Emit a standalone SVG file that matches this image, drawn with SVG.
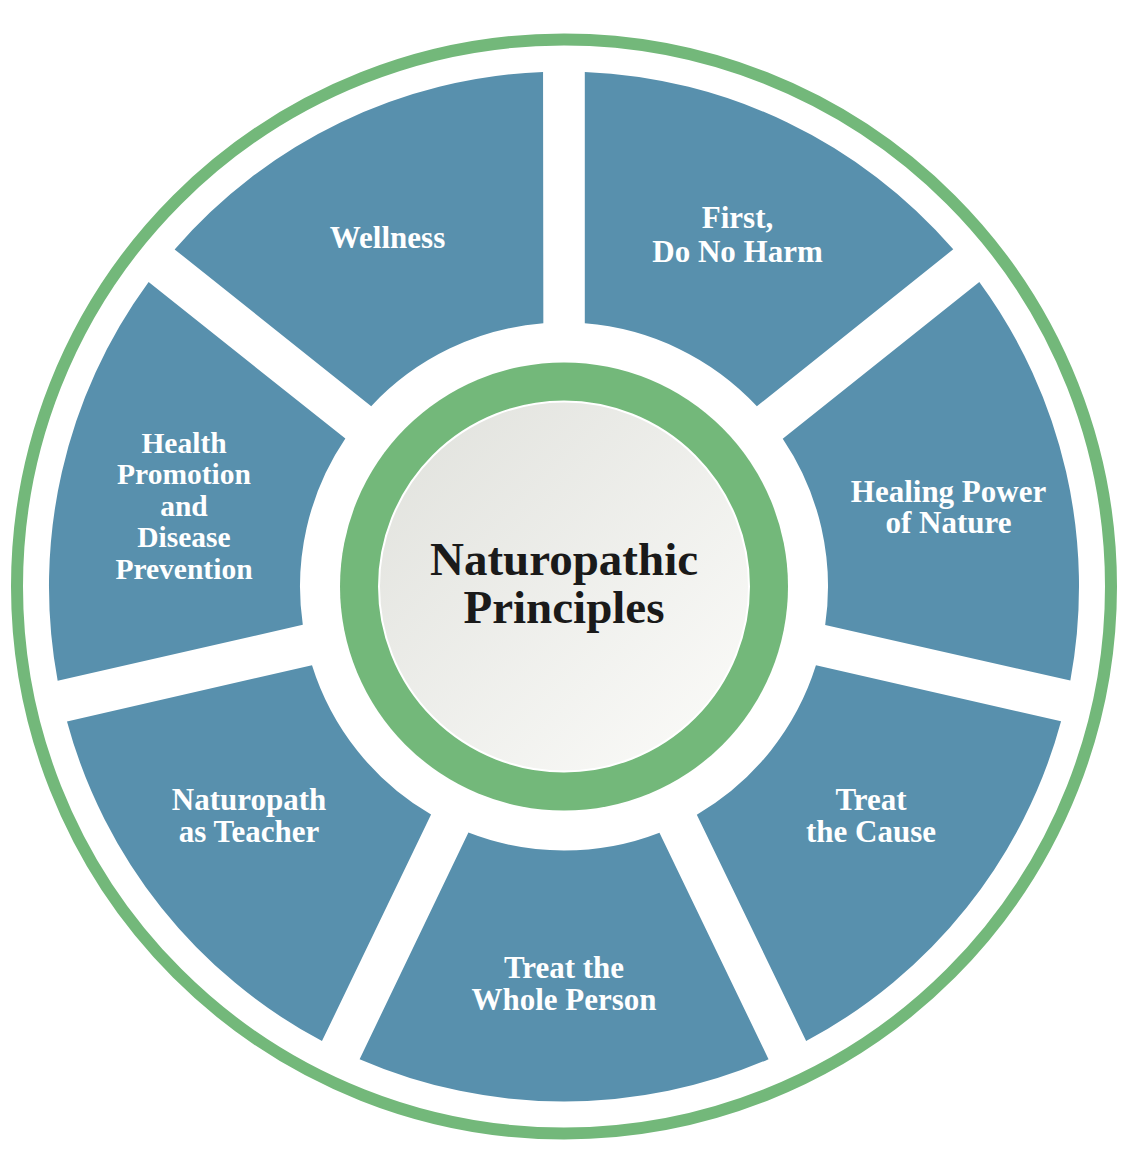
<svg xmlns="http://www.w3.org/2000/svg" width="1130" height="1170" viewBox="0 0 1130 1170">
  <style>
    .seg { fill: #5890AD; }
    .lbl { font-family: "Liberation Serif", "Times New Roman", serif; font-weight: bold; font-size: 31px; fill: #ffffff; text-anchor: middle; }
    .lbl.tight { font-size: 29.5px; }
    .title { font-family: "Liberation Serif", "Times New Roman", serif; font-weight: bold; font-size: 47px; fill: #1a1a1a; text-anchor: middle; }
  </style>
  <defs>
    <linearGradient id="hub" x1="0" y1="0" x2="1" y2="1">
      <stop offset="0" stop-color="#e0e1dc"/>
      <stop offset="1" stop-color="#fcfcfa"/>
    </linearGradient>
  </defs>
  <rect width="1130" height="1170" fill="#ffffff"/>
  <g id="outer-ring">
    <circle cx="564" cy="586.5" r="547" fill="none" stroke="#73B87A" stroke-width="12"/>
  </g>
  <g id="connectors"></g>
  <g id="first-do-no-harm">
    <path class="seg" d="M 584.8 71.9 A 515 515 0 0 1 953.25 249.29 L 756.89 406.25 A 264 264 0 0 0 584.8 323.32 Z"/>
    <text class="lbl" x="737.5" y="228.3">First,</text>
    <text class="lbl" x="737.5" y="261.7">Do No Harm</text>
  </g>
  <g id="healing-power">
    <path class="seg" transform="rotate(51.4286 564 586.5)" d="M 584.8 71.9 A 515 515 0 0 1 953.25 249.29 L 756.89 406.25 A 264 264 0 0 0 584.8 323.32 Z"/>
    <text class="lbl" x="948.5" y="501.7">Healing Power</text>
    <text class="lbl" x="948.5" y="533.3">of Nature</text>
  </g>
  <g id="treat-cause">
    <path class="seg" transform="rotate(102.8571 564 586.5)" d="M 584.8 71.9 A 515 515 0 0 1 953.25 249.29 L 756.89 406.25 A 264 264 0 0 0 584.8 323.32 Z"/>
    <text class="lbl" x="871" y="810">Treat</text>
    <text class="lbl" x="871" y="842">the Cause</text>
  </g>
  <g id="treat-whole-person">
    <path class="seg" transform="rotate(154.2857 564 586.5)" d="M 584.8 71.9 A 515 515 0 0 1 953.25 249.29 L 756.89 406.25 A 264 264 0 0 0 584.8 323.32 Z"/>
    <text class="lbl" x="564" y="978">Treat the</text>
    <text class="lbl" x="564" y="1010">Whole Person</text>
  </g>
  <g id="naturopath-teacher">
    <path class="seg" transform="rotate(205.7143 564 586.5)" d="M 584.8 71.9 A 515 515 0 0 1 953.25 249.29 L 756.89 406.25 A 264 264 0 0 0 584.8 323.32 Z"/>
    <text class="lbl" x="249" y="810">Naturopath</text>
    <text class="lbl" x="249" y="842">as Teacher</text>
  </g>
  <g id="health-promotion">
    <path class="seg" transform="rotate(257.1429 564 586.5)" d="M 584.8 71.9 A 515 515 0 0 1 953.25 249.29 L 756.89 406.25 A 264 264 0 0 0 584.8 323.32 Z"/>
    <text class="lbl tight" x="184" y="452.5">Health</text>
    <text class="lbl tight" x="184" y="484">Promotion</text>
    <text class="lbl tight" x="184" y="515.5">and</text>
    <text class="lbl tight" x="184" y="547">Disease</text>
    <text class="lbl tight" x="184" y="578.5">Prevention</text>
  </g>
  <g id="wellness">
    <path class="seg" transform="rotate(308.5714 564 586.5)" d="M 584.8 71.9 A 515 515 0 0 1 953.25 249.29 L 756.89 406.25 A 264 264 0 0 0 584.8 323.32 Z"/>
    <text class="lbl" x="387.5" y="248">Wellness</text>
  </g>
  <g id="center">
    <circle cx="564" cy="586.5" r="224" fill="#73B87A"/>
    <circle cx="564" cy="586.5" r="185" fill="url(#hub)" stroke="#ffffff" stroke-width="2"/>
    <text class="title" x="564" y="575">Naturopathic</text>
    <text class="title" x="564" y="623">Principles</text>
  </g>
</svg>
